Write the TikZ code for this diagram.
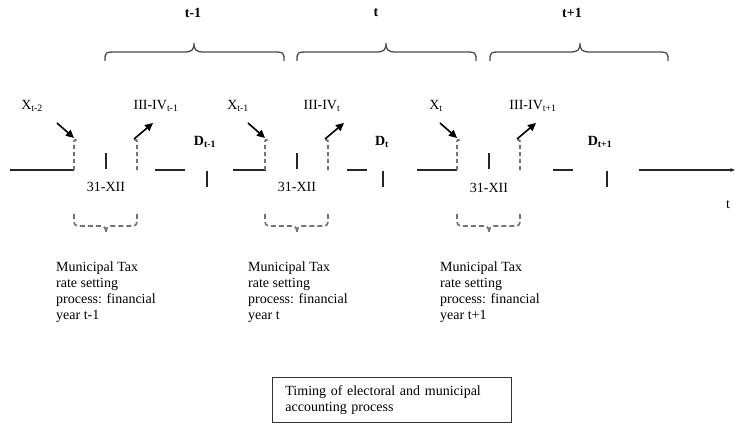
\documentclass[tikz,border=0pt]{standalone}
\usepackage{fontspec}
\setmainfont{Liberation Serif}
\usetikzlibrary{arrows.meta}
\begin{document}
\begin{tikzpicture}[x=1pt,y=-1pt,
  lbl/.style={font=\fontsize{14}{16}\selectfont, inner sep=0pt, text=black},
  axisline/.style={line width=1.2pt, draw=black!85},
  tickmark/.style={line width=1.2pt, draw=black!85},
  dline/.style={line width=1.9pt, draw=black!55, dash pattern=on 4pt off 3pt},
  darrow/.style={line width=1.6pt, draw=black, -{Triangle[length=8pt,width=7.5pt]}},
  bigbrace/.style={line width=1.3pt, draw=black!70},
  smallbrace/.style={line width=1.7pt, draw=black!55, dash pattern=on 5pt off 3pt},
  infobox/.style={draw=black!80, line width=0.8pt, font=\fontsize{14}{16}\selectfont,
    align=left, text width=213pt, inner xsep=13pt, minimum height=45pt, anchor=north west}
]
\useasboundingbox (0,0) rectangle (736,425);

% period labels
\node (Ltm1) [lbl] at (193,13) {\textbf{t-1}};
\node (Lt)   [lbl] at (376,13) {\textbf{t}};
\node (Ltp1) [lbl] at (572,13) {\textbf{t+1}};

% period braces
\foreach \a/\b/\m in {105/284/194, 297/476/386, 490/668/580} {
  \draw[bigbrace] (\a,61) .. controls (\a,52) .. (\a+12,52) -- (\m-10,52)
     .. controls (\m-2,52) and (\m,50) .. (\m,43)
     .. controls (\m,50) and (\m+2,52) .. (\m+10,52) -- (\b-12,52)
     .. controls (\b,52) .. (\b,61);
}

% time axis
\foreach \p/\q in {10/74, 155/185, 233/266, 347/367, 417/457, 553/573}
  \draw[axisline] (\p,170) -- (\q,170);
\coordinate (axs) at (639,170);
\coordinate (axe) at (735.6,170);
\draw[axisline, -{Latex[length=5pt,width=4pt]}] (axs) -- (axe);
\node (tlab) [lbl] at (728,205) {t};

% 31-XII ticks, dashed verticals, arrows, dashed braces
\foreach \T [count=\i] in {106,297,489} {
  \draw[tickmark] (\T,153) -- (\T,169);
  \draw[dline] (\T-32,170) -- (\T-32,143) .. controls (\T-32,140) .. (\T-29,139.5);
  \draw[dline] (\T+31,170) -- (\T+31,143) .. controls (\T+31,140) .. (\T+28,139.5);
  \coordinate (xs\i) at (\T-49,123);
  \coordinate (xe\i) at (\T-32,138);
  \coordinate (os\i) at (\T+28,139);
  \coordinate (oe\i) at (\T+47,123);
  \draw[darrow] (xs\i) -- (xe\i);
  \draw[darrow] (os\i) -- (oe\i);
  \draw[smallbrace] (\T-32,214) .. controls (\T-32,226) .. (\T-25,226) -- (\T-5,226)
     .. controls (\T-1,226) and (\T,229) .. (\T,233)
     .. controls (\T,229) and (\T+1,226) .. (\T+5,226) -- (\T+24,226)
     .. controls (\T+31,226) .. (\T+31,214);
}

% D ticks
\foreach \T in {207,383,607}
  \draw[tickmark] (\T,171) -- (\T,187);

% labels above arrows
\node (X1) [lbl] at (32,106)  {X\textsubscript{t-2}};
\node (X2) [lbl] at (238,106) {X\textsubscript{t-1}};
\node (X3) [lbl] at (436,106) {X\textsubscript{t}};
\node (I1) [lbl] at (156,106) {III-IV\textsubscript{t-1}};
\node (I2) [lbl] at (322,106) {III-IV\textsubscript{t}};
\node (I3) [lbl] at (533,106) {III-IV\textsubscript{t+1}};

% D labels
\node (D1) [lbl] at (205,142) {\textbf{D\textsubscript{t-1}}};
\node (D2) [lbl] at (382,142) {\textbf{D\textsubscript{t}}};
\node (D3) [lbl] at (600,142) {\textbf{D\textsubscript{t+1}}};

% 31-XII labels
\node (C1) [lbl] at (106,187) {31-XII};
\node (C2) [lbl] at (297,187) {31-XII};
\node (C3) [lbl] at (489,188) {31-XII};

% process texts
\node (P1) [lbl, anchor=north west, align=left] at (56,262)
  {Municipal Tax\\rate setting\\process: financial\\year t-1};
\node (P2) [lbl, anchor=north west, align=left] at (248,262)
  {Municipal Tax\\rate setting\\process: financial\\year t};
\node (P3) [lbl, anchor=north west, align=left] at (440,262)
  {Municipal Tax\\rate setting\\process: financial\\year t+1};

% caption box
\node (box) [infobox] at (272,377)
  {Timing of electoral and municipal\\accounting process};
\end{tikzpicture}
\end{document}
